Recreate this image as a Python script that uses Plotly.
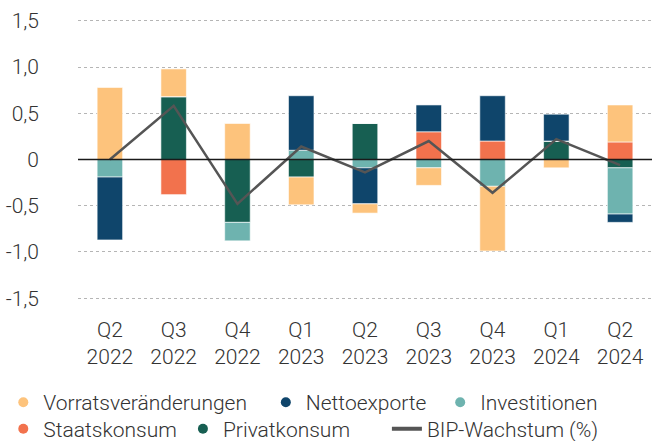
import plotly.graph_objects as go

# -----------------------------------------------------------------------------
# Data - contributions to GDP growth (percentage points)
# -----------------------------------------------------------------------------
quarters = ["Q2<br>2022", "Q3<br>2022", "Q4<br>2022", "Q1<br>2023", "Q2<br>2023",
            "Q3<br>2023", "Q4<br>2023", "Q1<br>2024", "Q2<br>2024"]

privatkonsum = [0.0, 0.68, -0.68, -0.19, 0.39, 0.0, 0.0, 0.20, -0.09]
staatskonsum = [0.0, -0.38, 0.0, 0.0, 0.0, 0.30, 0.20, 0.0, 0.19]
investitionen = [-0.19, 0.0, -0.20, 0.10, -0.09, -0.09, -0.29, 0.0, -0.50]
nettoexporte = [-0.68, 0.0, 0.0, 0.59, -0.39, 0.29, 0.49, 0.29, -0.09]
vorrat = [0.78, 0.30, 0.39, -0.30, -0.10, -0.19, -0.70, -0.09, 0.40]
bip = [0.0, 0.58, -0.48, 0.14, -0.14, 0.20, -0.36, 0.22, -0.06]

y_ticks = [-1.5, -1.0, -0.5, 0, 0.5, 1.0, 1.5]
y_labels = ["-1,5", "-1,0", "-0,5", "0", "0,5", "1,0", "1,5"]

FONT = "Roboto"
TEXT = "#333333"
SIZE = 21

# stack order from zero outwards; every legend entry gets its own legend box
# so the two legend rows can be spaced like the original
bars = [
    ("Privatkonsum", privatkonsum, "#175F52", "legend5"),
    ("Staatskonsum", staatskonsum, "#F2724D", "legend4"),
    ("Investitionen", investitionen, "#6EB3AF", "legend3"),
    ("Nettoexporte", nettoexporte, "#0F456B", "legend2"),
    ("Vorratsveränderungen", vorrat, "#FDC37C", "legend"),
]

fig = go.Figure()

for name, vals, color, leg in bars:
    fig.add_trace(go.Bar(
        x=quarters, y=vals, name=name, showlegend=False,
        marker=dict(color=color, line=dict(color="rgba(255,255,255,0.6)", width=1)),
    ))
    # legend entry with a round marker
    fig.add_trace(go.Scatter(
        x=[None], y=[None], mode="markers", name=name, legend=leg,
        marker=dict(color=color, size=10, symbol="circle"),
    ))

fig.add_trace(go.Scatter(
    x=quarters, y=bip, mode="lines", name="BIP-Wachstum (%)", showlegend=False,
    line=dict(color="#555555", width=2.5),
))
fig.add_trace(go.Scatter(
    x=[None], y=[None], mode="lines", name="BIP-Wachstum (%)", legend="legend6",
    line=dict(color="#555555", width=4),
))

# zero line drawn over the bars
fig.add_shape(type="line", xref="paper", yref="y", x0=0, x1=1, y0=0, y1=0,
              line=dict(color="#1a1a1a", width=1.5), layer="above")


def legend_box(x, y):
    return dict(
        orientation="h", xref="container", yref="container",
        x=x, y=y, xanchor="left", yanchor="middle",
        font=dict(family=FONT, size=SIZE, color=TEXT, weight=300),
        itemwidth=30, bgcolor="rgba(0,0,0,0)",
    )


ROW1 = 0.087
ROW2 = 0.027

fig.update_layout(
    width=658, height=441,
    margin=dict(l=78, r=6, t=19, b=141),
    barmode="relative",
    bargap=0.6,
    plot_bgcolor="white",
    paper_bgcolor="white",
    font=dict(family=FONT, size=SIZE, color=TEXT, weight=300),
    legend=legend_box(0.005, ROW1),
    legend2=legend_box(0.404, ROW1),
    legend3=legend_box(0.669, ROW1),
    legend4=legend_box(0.005, ROW2),
    legend5=legend_box(0.278, ROW2),
    legend6=legend_box(0.588, ROW2),
    xaxis=dict(showgrid=False, showline=False, ticks="", ticklabelstandoff=15,
               automargin=False, tickfont=dict(size=SIZE)),
    yaxis=dict(
        range=[-1.52, 1.52], tickvals=y_ticks, ticktext=y_labels,
        showgrid=True, gridcolor="#b5b5b5", griddash="dot", gridwidth=1,
        zeroline=False, showline=False, ticks="", ticklabelstandoff=38,
        automargin=False, tickfont=dict(size=SIZE),
    ),
)

# page body has a default 8px margin; drop it so the figure fills the window
fig.write_html("out.html", config={"displayModeBar": False},
               post_script="document.body.style.margin = '0';")
